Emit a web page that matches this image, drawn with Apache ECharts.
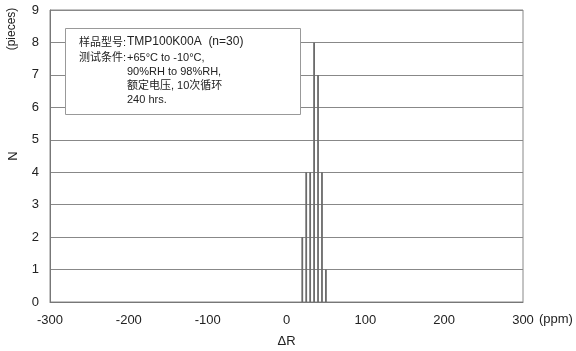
<!DOCTYPE html>
<html><head><meta charset="utf-8">
<script src="https://cdn.jsdelivr.net/npm/echarts@6/dist/echarts.min.js"></script>
<style>html,body{margin:0;padding:0;background:#fff}#c{width:576px;height:351px}</style>
</head><body><div id="c"></div>
<script>
var deltaR = [20, 25, 30, 35, 40, 45, 50];
var counts = [2, 4, 4, 8, 7, 4, 1];
var xTicks = [-300, -200, -100, 0, 100, 200, 300];
var yTicks = [0, 1, 2, 3, 4, 5, 6, 7, 8, 9];
var noteLines = ['样品型号:', '测试条件:'];
var noteValues = ['TMP100K00A  (n=30)', '+65°C to -10°C,', '90%RH to 98%RH,', '额定电压, 10次循环', '240 hrs.'];

var font = "'Liberation Sans', Arial, 'Noto Sans CJK SC', sans-serif";
var chart = echarts.init(document.getElementById('c'));
var data = deltaR.map(function (v, i) { return [v, counts[i]]; });
var txtCol = '#222';
var graphics = [
  { type: 'rect', left: 65, top: 28, shape: { width: 235, height: 86 },
    style: { fill: '#fff', stroke: '#999', lineWidth: 1 }, z: 100 },
  { type: 'text', left: 79, top: 37, z: 101, style: { text: noteLines[0], font: '11px ' + font, fill: txtCol } },
  { type: 'text', left: 79, top: 52, z: 101, style: { text: noteLines[1], font: '11px ' + font, fill: txtCol } },
  { type: 'text', left: 127, top: 36, z: 101, style: { text: noteValues[0], font: '12px ' + font, fill: txtCol } },
  { type: 'text', left: 127, top: 52, z: 101, style: { text: noteValues[1], font: '11px ' + font, fill: txtCol } },
  { type: 'text', left: 127, top: 66, z: 101, style: { text: noteValues[2], font: '11px ' + font, fill: txtCol } },
  { type: 'text', left: 127, top: 80, z: 101, style: { text: noteValues[3], font: '11px ' + font, fill: txtCol } },
  { type: 'text', left: 127, top: 94, z: 101, style: { text: noteValues[4], font: '11px ' + font, fill: txtCol } },
  { type: 'text', x: 12, y: 29, rotation: Math.PI / 2, z: 101,
    style: { text: '(pieces)', font: '12px ' + font, fill: txtCol, align: 'center', verticalAlign: 'middle' } },
  { type: 'text', left: 539, top: 313, z: 101, style: { text: '(ppm)', font: '13px ' + font, fill: txtCol } }
];
chart.setOption({
  animation: false,
  backgroundColor: '#fff',
  grid: { left: 50, right: 53, top: 10, bottom: 49, show: true, borderColor: '#888', borderWidth: 1,
          containLabel: false, outerBoundsMode: 'none' },
  xAxis: {
    type: 'value', min: xTicks[0], max: xTicks[xTicks.length - 1], interval: 100,
    name: 'ΔR', nameLocation: 'middle', nameGap: 33,
    nameTextStyle: { fontSize: 13, color: txtCol, fontFamily: font },
    axisLine: { onZero: false, lineStyle: { color: '#777' } },
    axisTick: { show: false },
    splitLine: { show: false },
    axisLabel: { margin: 12, fontSize: 13, color: txtCol, fontFamily: font }
  },
  yAxis: {
    type: 'value', min: yTicks[0], max: yTicks[yTicks.length - 1], interval: 1,
    name: 'N', nameLocation: 'middle', nameGap: 30, nameRotate: 90,
    nameTextStyle: { fontSize: 13, color: txtCol, fontFamily: font },
    axisLine: { show: true, onZero: false, lineStyle: { color: '#777' } },
    axisTick: { show: false },
    splitLine: { lineStyle: { color: '#888', width: 1 } },
    axisLabel: { margin: 11, fontSize: 13, color: txtCol, fontFamily: font }
  },
  series: [{
    type: 'custom',
    data: data,
    renderItem: function (params, api) {
      var p0 = api.coord([api.value(0), 0]);
      var p1 = api.coord([api.value(0), api.value(1)]);
      return { type: 'line', shape: { x1: p0[0], y1: p0[1], x2: p1[0], y2: p1[1] },
        style: { stroke: '#6a6a6a', lineWidth: 1.8 } };
    }
  }],
  graphic: graphics
});
</script></body></html>
